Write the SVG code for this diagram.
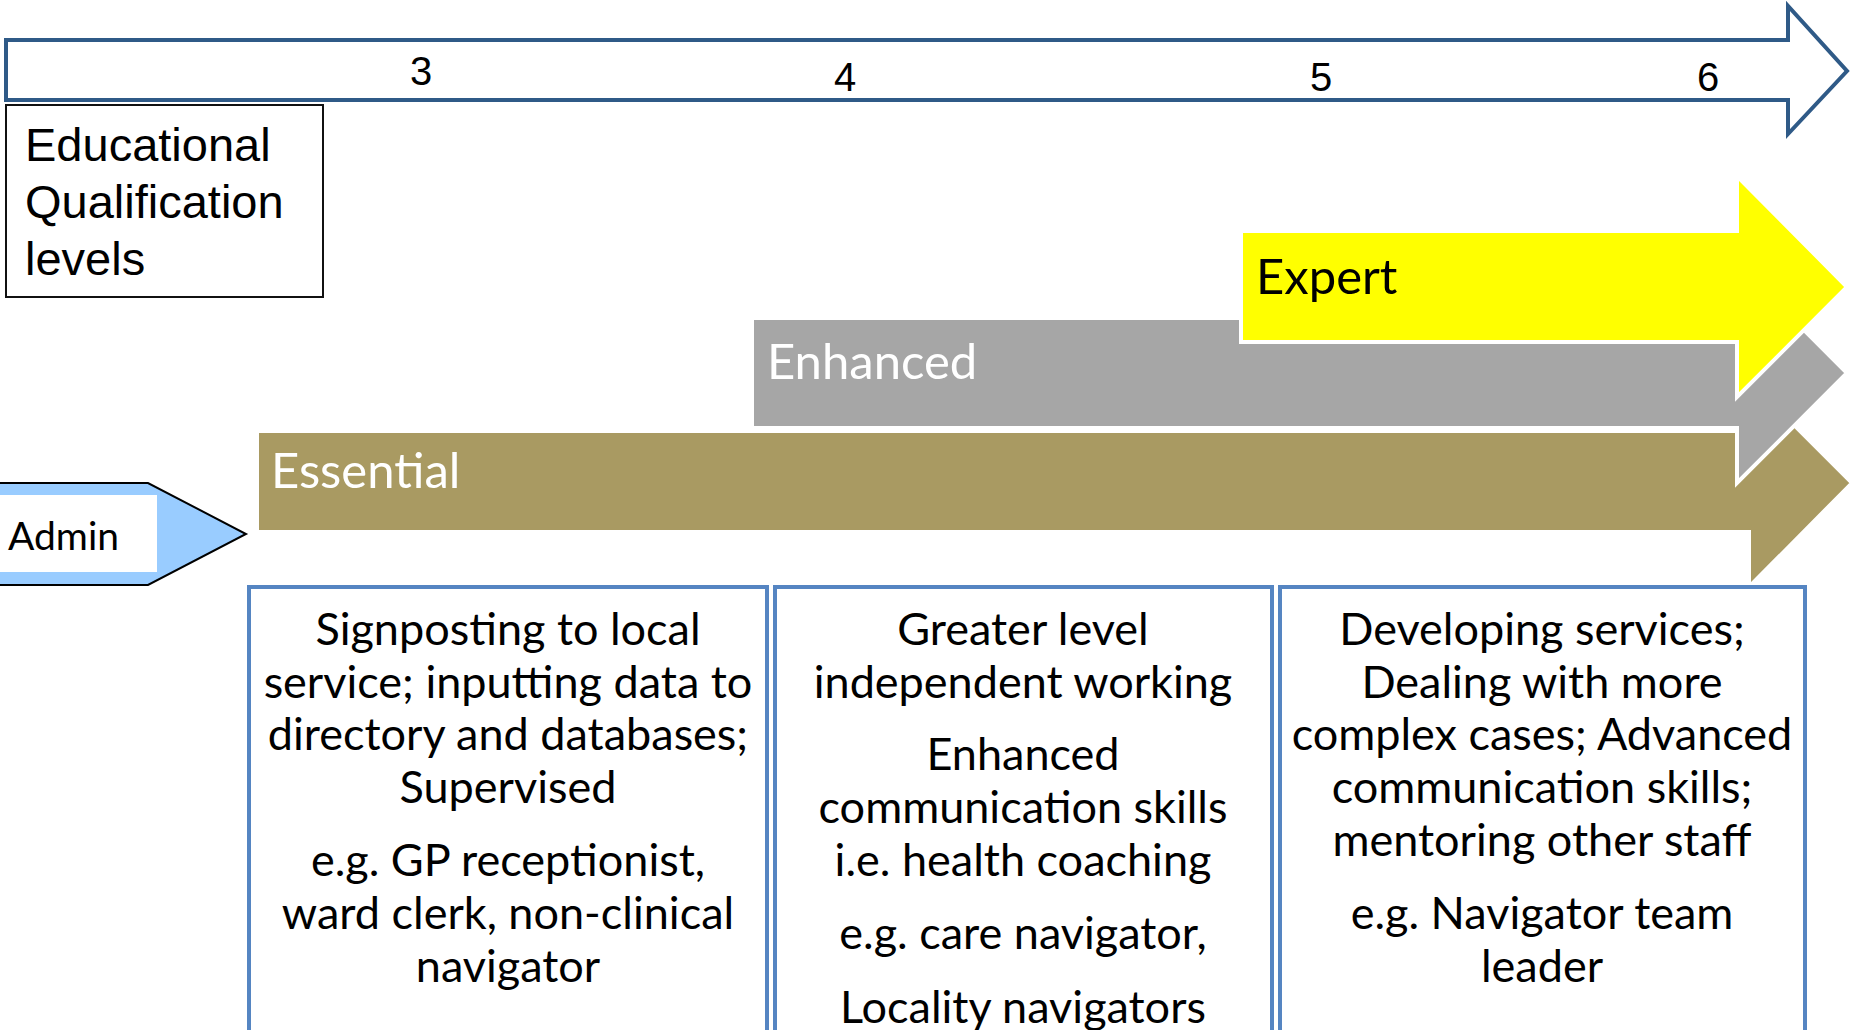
<svg xmlns="http://www.w3.org/2000/svg" width="1850" height="1030" viewBox="0 0 1850 1030">
  <style>
    .num { font-family: "Liberation Sans", Arial, sans-serif; font-size: 40px; fill: #000; text-anchor: middle; }
    .edu { font-family: "Liberation Sans", Arial, sans-serif; font-size: 47px; fill: #000; }
    .lbl { font-family: Lato, "Open Sans", sans-serif; font-size: 49px; }
    .body { font-family: Lato, "Open Sans", sans-serif; font-size: 45px; fill: #000; text-anchor: middle; }
    .band { stroke: #fff; stroke-width: 4; stroke-linejoin: miter; }
    .box { fill: #fff; stroke: #5585C2; stroke-width: 4; }
  </style>

  <!-- qualification level scale -->
  <g id="level-scale">
    <path d="M6,40 H1788 V6 L1847,71 L1788,134 V100 H6 Z" fill="#fff" stroke="#2F5A87" stroke-width="4"/>
    <text class="num" x="421" y="85">3</text>
    <text class="num" x="845" y="91">4</text>
    <text class="num" x="1321" y="91">5</text>
    <text class="num" x="1708" y="91">6</text>
  </g>

  <g id="edu-levels">
    <rect x="6" y="105" width="317" height="192" fill="#fff" stroke="#111" stroke-width="2"/>
    <text class="edu" x="25" y="161">Educational</text>
    <text class="edu" x="25" y="218">Qualification</text>
    <text class="edu" x="25" y="275">levels</text>
  </g>

  <!-- competence bands, lowest first so higher bands overlap -->
  <g id="essential">
    <path class="band" d="M257,431 H1749 V380 L1852,483 L1749,587 V532 H257 Z" fill="#A99A62"/>
    <text class="lbl" x="271" y="488" fill="#fff">Essential</text>
  </g>

  <g id="enhanced">
    <path class="band" d="M752,318 H1737 V263 L1847,373 L1737,483 V428 H752 Z" fill="#A6A6A6"/>
    <text class="lbl" x="767" y="379" fill="#fff">Enhanced</text>
  </g>

  <g id="expert">
    <path class="band" d="M1241,231 H1737 V176 L1847,287 L1737,397 V342 H1241 Z" fill="#FFFF00"/>
    <text class="lbl" x="1256" y="294" fill="#000">Expert</text>
  </g>

  <g id="admin">
    <path d="M-4,483 H148 L246,534 L148,585 H-4 Z" fill="#99CCFF" stroke="#000" stroke-width="2"/>
    <rect x="0" y="495" width="157" height="77" fill="#fff"/>
    <text x="8" y="550" font-family="Lato, 'Open Sans', sans-serif" font-size="39" fill="#000">Admin</text>
  </g>

  <!-- role descriptions -->
  <g id="essential-roles">
    <rect class="box" x="249" y="587" width="518" height="470"/>
    <text class="body" x="508" y="645">Signposting to local</text>
    <text class="body" x="508" y="698">service; inputting data to</text>
    <text class="body" x="508" y="750">directory and databases;</text>
    <text class="body" x="508" y="803">Supervised</text>
    <text class="body" x="508" y="876">e.g. GP receptionist,</text>
    <text class="body" x="508" y="929">ward clerk, non-clinical</text>
    <text class="body" x="508" y="982">navigator</text>
  </g>

  <g id="enhanced-roles">
    <rect class="box" x="775" y="587" width="497" height="470"/>
    <text class="body" x="1023" y="645">Greater level</text>
    <text class="body" x="1023" y="698">independent working</text>
    <text class="body" x="1023" y="770">Enhanced</text>
    <text class="body" x="1023" y="823">communication skills</text>
    <text class="body" x="1023" y="876">i.e. health coaching</text>
    <text class="body" x="1023" y="949">e.g. care navigator,</text>
    <text class="body" x="1023" y="1023">Locality navigators</text>
  </g>

  <g id="expert-roles">
    <rect class="box" x="1280" y="587" width="525" height="470"/>
    <text class="body" x="1542" y="645">Developing services;</text>
    <text class="body" x="1542" y="698">Dealing with more</text>
    <text class="body" x="1542" y="750">complex cases; Advanced</text>
    <text class="body" x="1542" y="803">communication skills;</text>
    <text class="body" x="1542" y="856">mentoring other staff</text>
    <text class="body" x="1542" y="929">e.g. Navigator team</text>
    <text class="body" x="1542" y="982">leader</text>
  </g>
</svg>
